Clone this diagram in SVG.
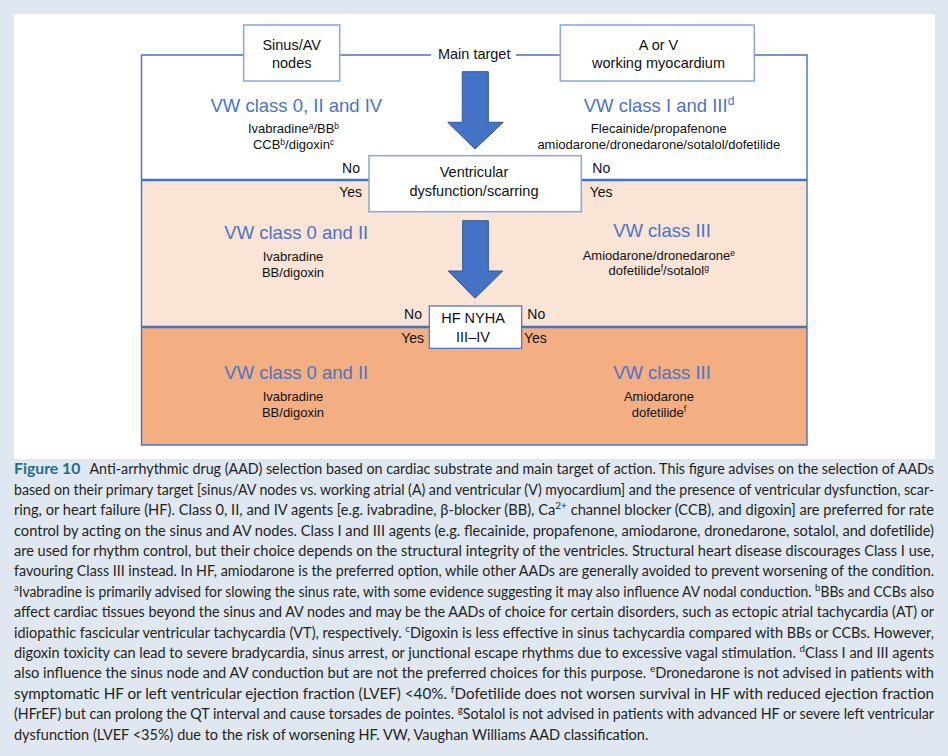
<svg xmlns="http://www.w3.org/2000/svg" width="948" height="756" viewBox="0 0 948 756">
<defs>
<style>
.d{font-family:"Liberation Sans",Arial,sans-serif;fill:#111}
.lbl{font-size:14.5px;text-anchor:middle}
.yn{font-size:14px}
.hd{font-size:18.5px;fill:#4a74c6;text-anchor:middle}
.dr{font-size:13px;text-anchor:middle}
.sup{font-size:8.5px}
.frame{fill:none;stroke:#4a6fbf;stroke-width:1.4}
.div{stroke:#4472c4;stroke-width:2.6}
.nbox{fill:#fff;stroke:#8eaadb;stroke-width:1.6}
.hbox{fill:#fff;stroke:#4a6fbf;stroke-width:1.2}
.arr{fill:#4472c4;stroke:#2f5597;stroke-width:1}
.cap{font-family:Lato,"Open Sans",sans-serif;font-size:14.5px;fill:#231f20}
.fig{font-weight:bold;fill:#1f6f8b}
.cs{font-size:10px;baseline-shift:super}
</style>
</defs>
<rect x="0" y="0" width="948" height="756" fill="#dfe8f0"/>
<rect x="14" y="14" width="921" height="445" fill="#ffffff"/>

<g id="sections">
<rect x="141.5" y="180" width="665.5" height="147" fill="#f9e4d6"/>
<rect x="141.5" y="327" width="665.5" height="118" fill="#f3af82"/>
</g>

<g id="connectors">
<polyline class="frame" points="243.7,55 141.5,55 141.5,445 807,445 807,55 754.3,55"/>
<line class="frame" x1="339.7" y1="55" x2="431" y2="55"/>
<line class="frame" x1="516" y1="55" x2="560.3" y2="55"/>
<line class="div" x1="141.5" y1="180" x2="807" y2="180"/>
<line class="div" x1="141.5" y1="327" x2="807" y2="327"/>
<polygon class="arr" points="462.3,71.7 488.3,71.7 488.3,122.3 503.3,122.3 475,149 447.7,122.3 462.3,122.3"/>
<polygon class="arr" points="462.7,220.7 488.3,220.7 488.3,271 502.7,271 475,298.3 448.3,271 462.7,271"/>
<text class="d lbl" x="474.2" y="59.3">Main target</text>
</g>

<g id="node-sinus">
<rect class="nbox" x="243.7" y="25" width="96" height="56"/>
<text class="d lbl" x="291.7" y="50">Sinus/AV</text>
<text class="d lbl" x="291.7" y="67.7">nodes</text>
</g>

<g id="node-myocardium">
<rect class="nbox" x="560.3" y="25" width="194" height="56"/>
<text class="d lbl" x="658.5" y="50">A or V</text>
<text class="d lbl" x="658.5" y="67.7">working myocardium</text>
</g>

<g id="node-ventricular">
<rect class="nbox" x="369" y="155.7" width="212.3" height="56"/>
<text class="d lbl" x="474" y="177.3">Ventricular</text>
<text class="d lbl" x="474" y="195.7">dysfunction/scarring</text>
</g>

<g id="node-hf">
<rect class="hbox" x="429.3" y="306" width="92.4" height="42.3"/>
<text class="d lbl" x="473" y="323.3">HF NYHA</text>
<text class="d lbl" x="473" y="341.7">III–IV</text>
</g>

<g id="yesno">
<text class="d yn" x="360" y="173" text-anchor="end">No</text>
<text class="d yn" x="362" y="196.7" text-anchor="end">Yes</text>
<text class="d yn" x="592.3" y="173">No</text>
<text class="d yn" x="589.7" y="196.7">Yes</text>
<text class="d yn" x="422" y="319.3" text-anchor="end">No</text>
<text class="d yn" x="424" y="343.3" text-anchor="end">Yes</text>
<text class="d yn" x="527.3" y="319.3">No</text>
<text class="d yn" x="524" y="343.3">Yes</text>
</g>

<g id="node-top-left">
<text class="d hd" x="296.3" y="111.7">VW class 0, II and IV</text>
<text class="d dr" x="293.5" y="133.3">Ivabradine<tspan class="sup" dy="-4.5">a</tspan><tspan dy="4.5">/BB</tspan><tspan class="sup" dy="-4.5">b</tspan></text>
<text class="d dr" x="293.5" y="149">CCB<tspan class="sup" dy="-4.5">b</tspan><tspan dy="4.5">/digoxin</tspan><tspan class="sup" dy="-4.5">c</tspan></text>
</g>

<g id="node-top-right">
<text class="d hd" x="659" y="111.7">VW class I and III<tspan font-size="12" dy="-7">d</tspan></text>
<text class="d dr" x="658.8" y="133.3">Flecainide/propafenone</text>
<text class="d dr" x="658.8" y="149">amiodarone/dronedarone/sotalol/dofetilide</text>
</g>

<g id="node-mid-left">
<text class="d hd" x="296.3" y="239">VW class 0 and II</text>
<text class="d dr" x="293" y="261">Ivabradine</text>
<text class="d dr" x="293" y="276.7">BB/digoxin</text>
</g>

<g id="node-mid-right">
<text class="d hd" x="662" y="237">VW class III</text>
<text class="d dr" x="658.8" y="260">Amiodarone/dronedarone<tspan class="sup" dy="-4.5">e</tspan></text>
<text class="d dr" x="658.8" y="275">dofetilide<tspan class="sup" dy="-4.5">f</tspan><tspan dy="4.5">/sotalol</tspan><tspan class="sup" dy="-4.5">g</tspan></text>
</g>

<g id="node-bottom-left">
<text class="d hd" x="296.3" y="379">VW class 0 and II</text>
<text class="d dr" x="293" y="401">Ivabradine</text>
<text class="d dr" x="293" y="416.7">BB/digoxin</text>
</g>

<g id="node-bottom-right">
<text class="d hd" x="662" y="379">VW class III</text>
<text class="d dr" x="659" y="401">Amiodarone</text>
<text class="d dr" x="659" y="416.7">dofetilide<tspan class="sup" dy="-4.5">f</tspan></text>
</g>

<g id="caption" class="cap">
<text x="14" y="474.3" textLength="920" lengthAdjust="spacingAndGlyphs"><tspan class="fig" font-size="16">Figure 10</tspan><tspan dx="6"> Anti-arrhythmic drug (AAD) selection based on cardiac substrate and main target of action. This figure advises on the selection of AADs</tspan></text>
<text x="14" y="494.7" textLength="920" lengthAdjust="spacingAndGlyphs">based on their primary target [sinus/AV nodes vs. working atrial (A) and ventricular (V) myocardium] and the presence of ventricular dysfunction, scar-</text>
<text x="14" y="515.1" textLength="920" lengthAdjust="spacingAndGlyphs">ring, or heart failure (HF). Class 0, II, and IV agents [e.g. ivabradine, β-blocker (BB), Ca<tspan class="cs">2+</tspan> channel blocker (CCB), and digoxin] are preferred for rate</text>
<text x="14" y="535.5" textLength="920" lengthAdjust="spacingAndGlyphs">control by acting on the sinus and AV nodes. Class I and III agents (e.g. flecainide, propafenone, amiodarone, dronedarone, sotalol, and dofetilide)</text>
<text x="14" y="555.9" textLength="920" lengthAdjust="spacingAndGlyphs">are used for rhythm control, but their choice depends on the structural integrity of the ventricles. Structural heart disease discourages Class I use,</text>
<text x="14" y="576.3" textLength="920" lengthAdjust="spacingAndGlyphs">favouring Class III instead. In HF, amiodarone is the preferred option, while other AADs are generally avoided to prevent worsening of the condition.</text>
<text x="14" y="596.7" textLength="920" lengthAdjust="spacingAndGlyphs"><tspan class="cs">a</tspan>Ivabradine is primarily advised for slowing the sinus rate, with some evidence suggesting it may also influence AV nodal conduction. <tspan class="cs">b</tspan>BBs and CCBs also</text>
<text x="14" y="617.1" textLength="920" lengthAdjust="spacingAndGlyphs">affect cardiac tissues beyond the sinus and AV nodes and may be the AADs of choice for certain disorders, such as ectopic atrial tachycardia (AT) or</text>
<text x="14" y="637.5" textLength="920" lengthAdjust="spacingAndGlyphs">idiopathic fascicular ventricular tachycardia (VT), respectively. <tspan class="cs">c</tspan>Digoxin is less effective in sinus tachycardia compared with BBs or CCBs. However,</text>
<text x="14" y="657.9" textLength="920" lengthAdjust="spacingAndGlyphs">digoxin toxicity can lead to severe bradycardia, sinus arrest, or junctional escape rhythms due to excessive vagal stimulation. <tspan class="cs">d</tspan>Class I and III agents</text>
<text x="14" y="678.3" textLength="920" lengthAdjust="spacingAndGlyphs">also influence the sinus node and AV conduction but are not the preferred choices for this purpose. <tspan class="cs">e</tspan>Dronedarone is not advised in patients with</text>
<text x="14" y="698.7" textLength="920" lengthAdjust="spacingAndGlyphs">symptomatic HF or left ventricular ejection fraction (LVEF) &lt;40%. <tspan class="cs">f</tspan>Dofetilide does not worsen survival in HF with reduced ejection fraction</text>
<text x="14" y="719.1" textLength="920" lengthAdjust="spacingAndGlyphs">(HFrEF) but can prolong the QT interval and cause torsades de pointes. <tspan class="cs">g</tspan>Sotalol is not advised in patients with advanced HF or severe left ventricular</text>
<text x="14" y="739.5">dysfunction (LVEF &lt;35%) due to the risk of worsening HF. VW, Vaughan Williams AAD classification.</text>
</g>
</svg>
